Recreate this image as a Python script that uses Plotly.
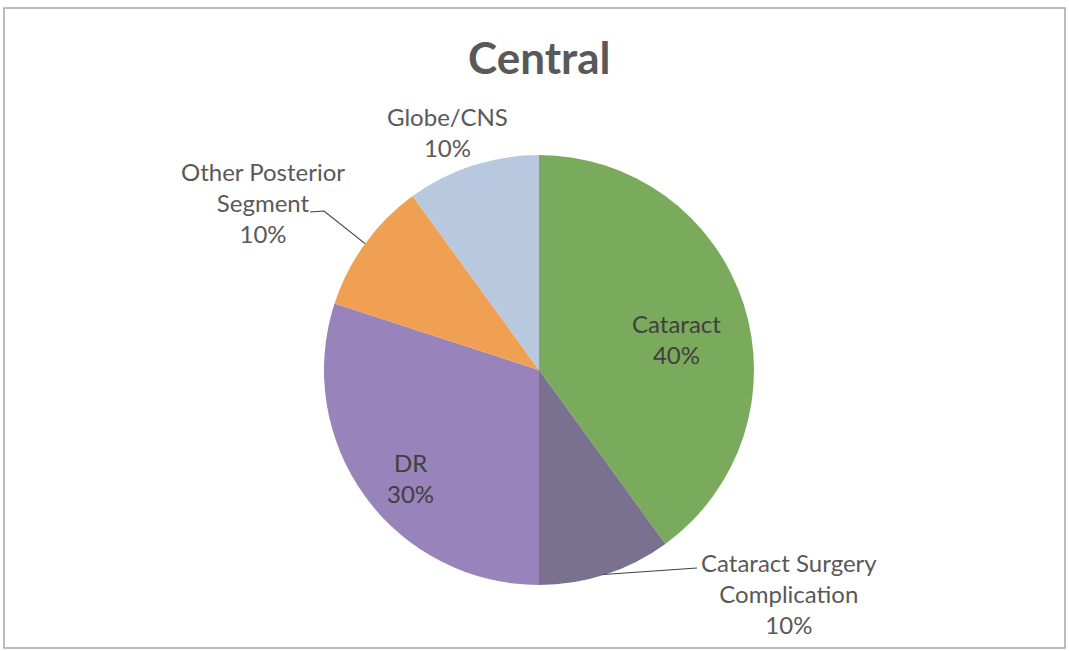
import math
import plotly.graph_objects as go

# Slice data, clockwise from 12 o'clock
categories = ["Cataract", "Cataract Surgery Complication", "DR",
              "Other Posterior Segment", "Globe/CNS"]
shares = [40, 10, 30, 10, 10]
colors = ["#7aaa5c", "#7a708f", "#9883ba", "#f0a052", "#b8c8de"]

W, H = 1069, 651
CX, CY, R = 539, 370, 215  # pie centre and radius in pixels

FONT = "Lato"
GREY = "#595959"
LABEL_SIZE = 24


def px(x):
    return x / W


def py(y):
    return 1 - y / H


def mid_point(i, frac):
    """Pixel point at the angular middle of slice i, at frac * radius."""
    total = sum(shares)
    start = sum(shares[:i]) / total * 360
    ang = math.radians(start + shares[i] / total * 180)
    return CX + frac * R * math.sin(ang), CY - frac * R * math.cos(ang)


def label_text(i, lines):
    pct = round(shares[i] / sum(shares) * 100)
    return "<br>".join(lines + [f"{pct}%"])


fig = go.Figure(go.Pie(
    labels=categories,
    values=shares,
    sort=False,
    direction="clockwise",
    rotation=0,
    marker=dict(colors=colors, line=dict(width=0)),
    textposition="none",
    hoverinfo="label+percent",
    showlegend=False,
    domain=dict(x=[px(CX - R), px(CX + R)], y=[py(CY + R), py(CY - R)]),
))

annotations = [
    # title
    dict(x=px(CX), y=py(57), text="<b>Central</b>",
         font=dict(family=FONT, size=44, color=GREY)),
    # inside labels
    dict(x=px(676), y=py(339), text=label_text(0, ["Cataract"]),
         font=dict(family=FONT, size=LABEL_SIZE, color="#404040")),
    dict(x=px(410), y=py(478), text=label_text(2, ["DR"]),
         font=dict(family=FONT, size=LABEL_SIZE, color="#404040")),
    # outside labels
    dict(x=px(447), y=py(132), text=label_text(4, ["Globe/CNS"]),
         font=dict(family=FONT, size=LABEL_SIZE, color=GREY)),
    dict(x=px(263), y=py(202), text=label_text(3, ["Other Posterior", "Segment"]),
         font=dict(family=FONT, size=LABEL_SIZE, color=GREY)),
    dict(x=px(789), y=py(593), text=label_text(1, ["Cataract Surgery", "Complication"]),
         font=dict(family=FONT, size=LABEL_SIZE, color=GREY)),
]
for a in annotations:
    a.update(xref="paper", yref="paper", showarrow=False,
             xanchor="center", yanchor="middle", align="center")

# leader lines from slice edges to their labels
ox, oy = mid_point(3, 1.0)
cx_, cy_ = mid_point(1, 1.0)
shapes = [
    dict(type="path", xref="paper", yref="paper",
         path=f"M {px(310)},{py(212)} L {px(324)},{py(211)} L {px(ox)},{py(oy)}",
         line=dict(color="#404040", width=1.2)),
    dict(type="path", xref="paper", yref="paper",
         path=f"M {px(cx_ - 2)},{py(cy_)} L {px(697)},{py(568)}",
         line=dict(color="#404040", width=1.2)),
    # chart frame
    dict(type="rect", xref="paper", yref="paper",
         x0=px(4), y0=py(648), x1=px(1065), y1=py(8),
         line=dict(color="#a6a6a6", width=1.5)),
]

fig.update_layout(
    width=W, height=H,
    margin=dict(l=0, r=0, t=0, b=0),
    paper_bgcolor="white",
    plot_bgcolor="white",
    annotations=annotations,
    shapes=shapes,
)

fig.write_html("out.html")
